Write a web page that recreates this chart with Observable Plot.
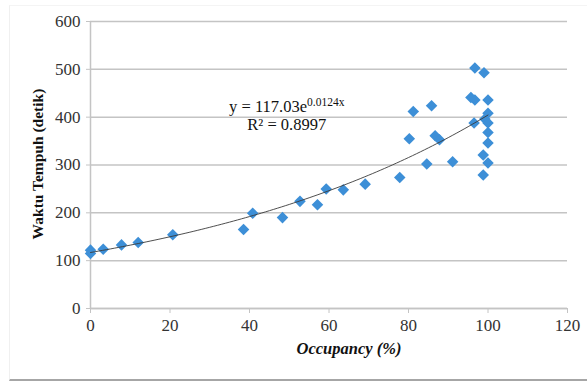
<!DOCTYPE html>
<html>
<head>
<meta charset="utf-8">
<script src="https://cdn.jsdelivr.net/npm/d3@7"></script>
<script src="https://cdn.jsdelivr.net/npm/@observablehq/plot@0.6"></script>
<style>
  html, body { margin: 0; padding: 0; background: #fff; }
  #wrap { position: relative; width: 587px; height: 381px; overflow: hidden; }
  #frame { position: absolute; left: 9px; top: 5px; width: 580px; height: 373px;
           border-left: 1px solid #f0f0f0; border-top: 1px solid #f4f4f4; border-bottom: 2px solid #a6a6a6; }
  #chart { position: absolute; left: 0; top: 0; }
  #chart svg, #chart svg text { font-family: 'Liberation Serif', 'Times New Roman', serif !important; }
</style>
</head>
<body>
<div id="wrap"><div id="frame"></div><div id="chart"></div></div>
<script>
// Occupancy (%) and travel time (detik)
const occupancy = [0, 0, 3.2, 7.8, 12, 20.7, 38.5, 40.8, 48.3, 52.7, 57.1, 59.3, 63.6, 69.1, 77.8,
  80.2, 81.2, 84.6, 85.8, 86.7, 87.8, 91.1, 95.7, 96.5, 96.7, 96.7, 98.8, 98.8, 99, 99.2,
  100, 100, 100, 100, 100, 100];
const waktu = [122, 115, 124, 133, 138, 154, 165, 199, 190, 224, 217, 250, 248, 260, 274,
  355, 412, 302, 424, 361, 353, 307, 441, 388, 436, 503, 321, 279, 493, 396,
  436, 408, 388, 368, 346, 304];
const xTicks = [0, 20, 40, 60, 80, 100, 120];
const yTicks = [0, 100, 200, 300, 400, 500, 600];
// Exponential trendline y = a e^(b x), as reported on the chart
const trendA = 117.03, trendB = 0.0124;
const trendRange = [0, 100];
const equationText = "y = 117.03e";
const equationExp = "0.0124x";
const r2Text = "R\u00B2 = 0.8997";
const xTitle = "Occupancy (%)";
const yTitle = "Waktu Tempuh (detik)";

const points = occupancy.map((x, i) => ({x, y: waktu[i]}));
const trend = d3.range(trendRange[0], trendRange[1] + 0.001, 1).map(x => ({x, y: trendA * Math.exp(trendB * x)}));

const serif = "'Liberation Serif', 'Times New Roman', serif";
const plot = Plot.plot({
  width: 587, height: 381,
  marginLeft: 90, marginRight: 20, marginTop: 21, marginBottom: 73,
  style: {fontFamily: serif, fontSize: "16px", color: "#333", background: "transparent", overflow: "visible"},
  x: {domain: [0, 120], ticks: xTicks, label: null},
  y: {domain: [0, 600], ticks: yTicks, label: null},
  marks: [
    Plot.gridY(yTicks, {stroke: "#c4c4c4", strokeOpacity: 1, strokeWidth: 1.5}),
    Plot.ruleX([0], {stroke: "#c4c4c4", strokeWidth: 1.5}),
    Plot.ruleY([0], {stroke: "#c4c4c4", strokeWidth: 1.5}),
    Plot.axisX(xTicks, {tickSize: 5, tickPadding: 5, stroke: "#c4c4c4", fill: "#333", fontSize: 17, fontFamily: serif}),
    Plot.axisY(yTicks, {tickSize: 4, tickPadding: 6, stroke: "#c4c4c4", fill: "#333", fontSize: 17, fontFamily: serif}),
    Plot.dot(points, {x: "x", y: "y", symbol: "diamond2", r: 5.2, fill: "#3D8FD7", stroke: "none"}),
    Plot.line(trend, {x: "x", y: "y", stroke: "#3a3a3a", strokeWidth: 0.9})
  ]
});
document.getElementById("chart").appendChild(plot);

const svg = d3.select(plot);
const sx = plot.scale("x"), sy = plot.scale("y");
// trendline equation label, positioned in data space near the curve
const ex = sx.apply(49.5);
const eq = svg.append("text").attr("x", ex).attr("y", sy.apply(410))
  .attr("text-anchor", "middle").attr("font-family", serif).attr("font-size", 16.5).attr("fill", "#111");
eq.append("tspan").text(equationText);
eq.append("tspan").attr("dy", -6).attr("font-size", 11.5).text(equationExp);
svg.append("text").attr("x", ex).attr("y", sy.apply(373))
  .attr("text-anchor", "middle").attr("font-family", serif).attr("font-size", 16.5).attr("fill", "#111")
  .text(r2Text);

// axis titles
svg.append("text").attr("x", 349).attr("y", 354).attr("text-anchor", "middle")
  .attr("font-family", serif).attr("font-size", 16.5).attr("font-weight", "bold").attr("font-style", "italic")
  .attr("fill", "#111").text(xTitle);
svg.append("text").attr("transform", "translate(43,164) rotate(-90)").attr("text-anchor", "middle")
  .attr("font-family", serif).attr("font-size", 15.5).attr("font-weight", "bold")
  .attr("fill", "#111").text(yTitle);
</script>
</body>
</html>
